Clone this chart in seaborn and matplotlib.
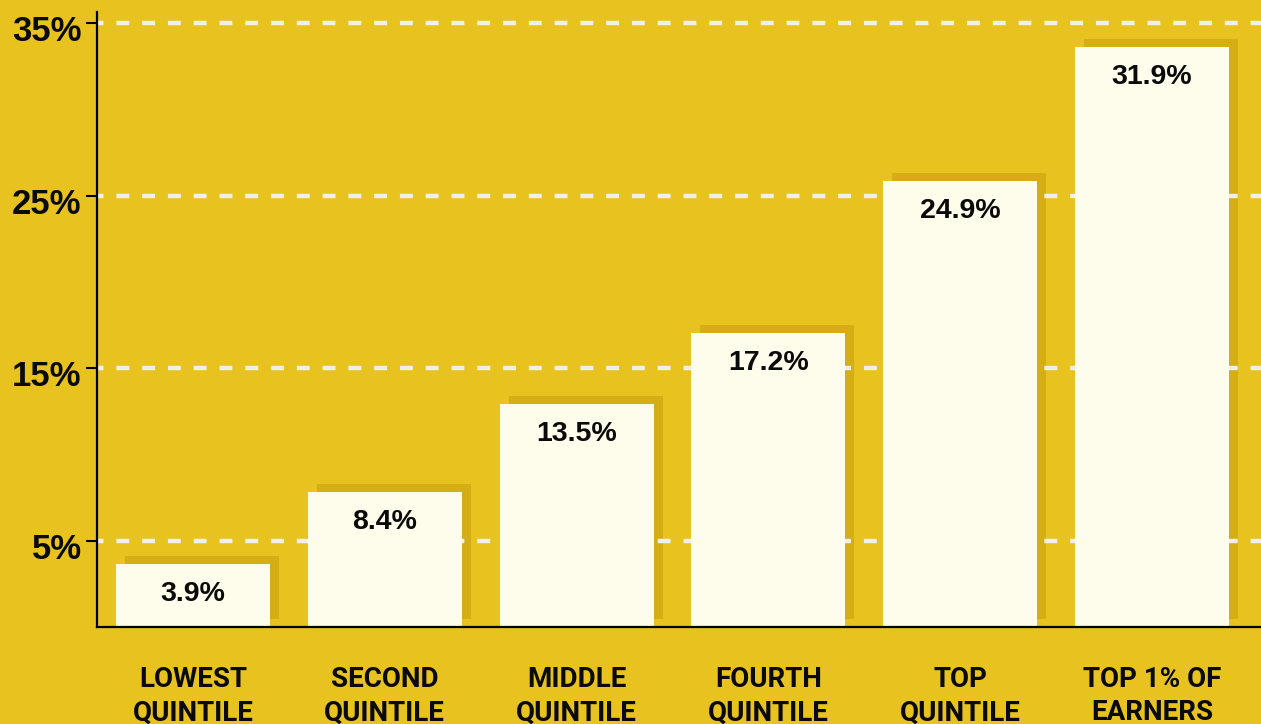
import matplotlib
matplotlib.use("Agg")
import matplotlib.pyplot as plt
import seaborn as sns
import pandas as pd
from matplotlib.transforms import ScaledTranslation

# ---- data ----
categories = ["LOWEST\nQUINTILE", "SECOND\nQUINTILE", "MIDDLE\nQUINTILE",
              "FOURTH\nQUINTILE", "TOP\nQUINTILE", "TOP 1% OF\nEARNERS"]
bar_heights = [3.67, 7.83, 12.93, 17.04, 25.84, 33.6]   # drawn bar heights (%)
value_labels = ["3.9%", "8.4%", "13.5%", "17.2%", "24.9%", "31.9%"]
y_ticks = [5, 15, 25, 35]
y_tick_labels = ["5%", "15%", "25%", "35%"]

BG = "#E8C31F"
SHADOW = "#D5AD14"
BAR = "#FEFCEB"
GRID = "#F0EFEA"

sns.set_theme(style="white")
plt.rcParams['font.family'] = ['Liberation Sans', 'DejaVu Sans']

df = pd.DataFrame({"category": categories, "value": bar_heights})

W, H = 1261, 724
fig = plt.figure(figsize=(W / 100, H / 100), dpi=100, facecolor=BG)
ax = fig.add_axes([97 / W, 1 - 627.3 / H, 1 - 97 / W, (627.3 - 12) / H])
ax.set_facecolor(BG)

# shadow bars (shifted right/up)
sns.barplot(data=df, x="category", y="value", color=SHADOW, saturation=1,
            width=0.803, ax=ax, zorder=1)
n_shadow = len(ax.patches)
shift = ScaledTranslation(9 / 100, 8 / 100, fig.dpi_scale_trans)
for p in ax.patches[:n_shadow]:
    p.set_transform(ax.transData + shift)
    p.set_linewidth(0)

# main bars
sns.barplot(data=df, x="category", y="value", color=BAR, saturation=1,
            width=0.803, ax=ax, zorder=3)
for p in ax.patches[n_shadow:]:
    p.set_linewidth(0)

# value labels
for i, (h, lab) in enumerate(zip(bar_heights, value_labels)):
    ax.annotate(lab, xy=(i, h), xytext=(0, -21.5), textcoords="offset points",
                ha="center", va="center", fontsize=20.5, fontweight="bold",
                color="#0a0a0a", zorder=5)

ax.set_xlim(-0.5005, 5.568)
ax.set_ylim(0, 35.63)
ax.set_xlabel("")
ax.set_ylabel("")

# grid
ax.set_axisbelow("line")
ax.grid(axis="y", color=GRID, linewidth=3.2, linestyle=(1.44, (2.9, 2.9)))
ax.grid(axis="x", visible=False)

# ticks
ax.set_yticks(y_ticks, y_tick_labels)
ax.tick_params(axis="y", length=8, width=1.5, color="black", pad=3,
               labelsize=25, labelcolor="#0a0a0a", left=True)
for lbl in ax.get_yticklabels():
    lbl.set_fontweight("bold")
    lbl.set_transform(lbl.get_transform() +
                      ScaledTranslation(0, -5 / 100, fig.dpi_scale_trans))

ax.set_xticks(range(len(categories)), categories)
ax.tick_params(axis="x", length=0, pad=28)
for lbl in ax.get_xticklabels():
    lbl.set_fontfamily(["Roboto", "DejaVu Sans"])
    lbl.set_fontweight("bold")
    lbl.set_fontsize(20)
    lbl.set_linespacing(1.3)
    lbl.set_color("#0a0a0a")

# spines
sns.despine(ax=ax, top=True, right=True)
for s in ("left", "bottom"):
    ax.spines[s].set_color("black")
    ax.spines[s].set_linewidth(1.6)
    ax.spines[s].set_zorder(4)

fig.savefig("out.png", dpi=100, facecolor=BG)
